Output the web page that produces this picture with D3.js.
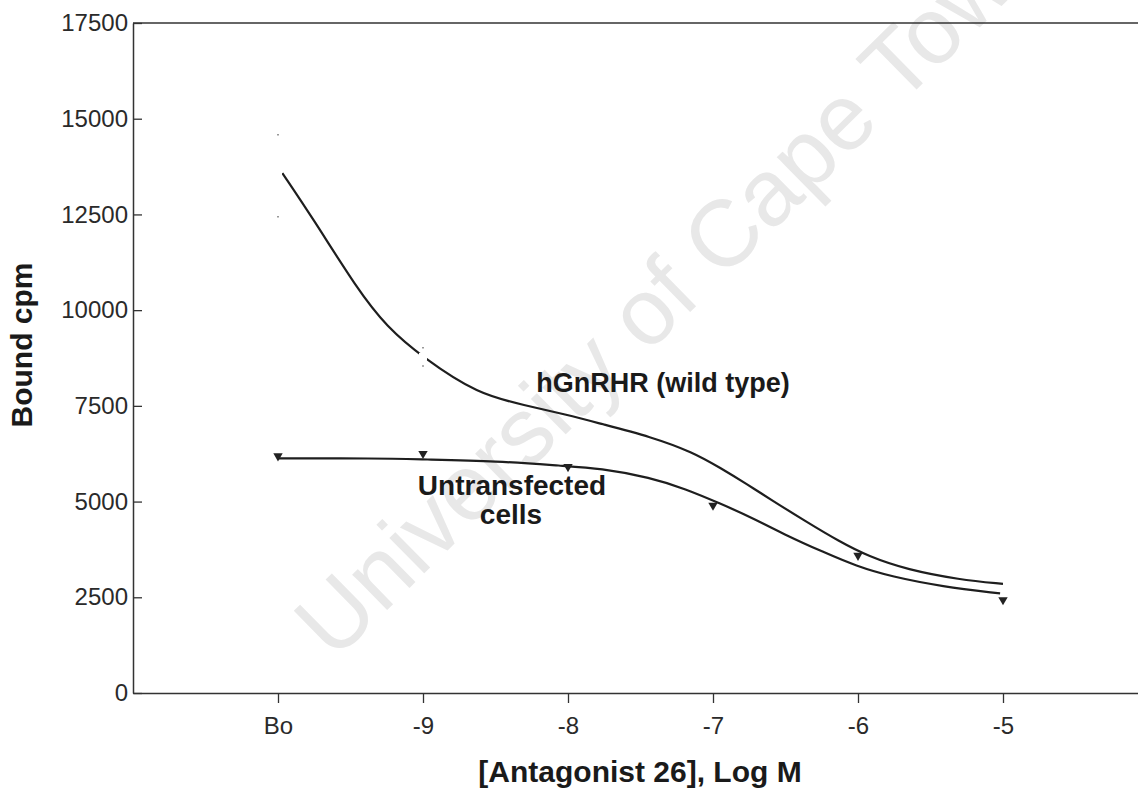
<!DOCTYPE html>
<html>
<head>
<meta charset="utf-8">
<script src="https://cdn.jsdelivr.net/npm/d3@7"></script>
<style>
  body { margin: 0; background: #fff; }
  text { font-family: "Liberation Sans", Arial, sans-serif; }
</style>
</head>
<body>
<script>
const w = 1138;
const h = 790;

// x categories: Bo is placed one log unit left of -9
const xTicks = [-10, -9, -8, -7, -6, -5];
const xTickLabels = ["Bo", "-9", "-8", "-7", "-6", "-5"];
const yTicks = [0, 2500, 5000, 7500, 10000, 12500, 15000, 17500];

// untransfected cells: measured points
const untransX = [-10, -9, -8, -7, -6, -5];
const untransY = [6190, 6250, 5910, 4900, 3590, 2430];

// untransfected cells: fitted curve
const untransFitX = [-10, -9.32, -9.0, -8.49, -8.03, -7.78, -7.43, -7.19, -6.95, -6.72, -6.48, -6.25, -6.01, -5.77, -5.42, -5.02];
const untransFitY = [6130, 6130, 6100, 6060, 5930, 5870, 5630, 5330, 4950, 4560, 4090, 3700, 3310, 3040, 2780, 2600];

// hGnRHR (wild type): fitted curve
const wildFitX = [-9.97, -9.76, -9.455, -9.25, -9.0, -8.62, -8.3, -8.0, -7.78, -7.425, -7.14, -6.95, -6.76, -6.6, -6.36, -6.13, -5.93, -5.66, -5.3, -5.0];
const wildFitY = [13580, 12400, 10560, 9560, 8760, 7800, 7520, 7260, 7040, 6690, 6290, 5880, 5440, 5050, 4480, 3960, 3570, 3220, 2960, 2850];

// hGnRHR (wild type): visible points (white markers) with error ends
const wildX = [-10, -9];
const wildY = [13510, 8780];
const wildErr = [1070, 240];

const svg = d3.select("body")
              .append("svg")
              .attr("width", w)
              .attr("height", h);

svg.append("rect").attr("width", w).attr("height", h).attr("fill", "#fff");

const xScale = d3.scaleLinear()
    .domain([-11, -4])
    .range([133, 1148]);

const yScale = d3.scaleLinear()
    .domain([0, 17500])
    .range([693, 23]);

// watermark
svg.append("text")
    .attr("transform", "translate(334,662) rotate(-44.5)")
    .attr("font-size", 94)
    .attr("fill", "#e8e8e8")
    .text("University of Cape Town");

// frame top line
svg.append("line")
    .attr("x1", xScale(-11)).attr("x2", xScale(-4))
    .attr("y1", yScale(17500)).attr("y2", yScale(17500))
    .attr("stroke", "#333").attr("stroke-width", 1.5);

const yAxis = d3.axisLeft(yScale)
    .tickValues(yTicks)
    .tickSizeInner(-9)
    .tickSizeOuter(0)
    .tickPadding(5)
    .tickFormat(d3.format("d"));

const gy = svg.append("g")
    .attr("transform", "translate(" + xScale(-11) + ",0)")
    .call(yAxis);

const xAxis = d3.axisBottom(xScale)
    .tickValues(xTicks)
    .tickSizeInner(10)
    .tickSizeOuter(0)
    .tickPadding(14)
    .tickFormat((d, i) => xTickLabels[i]);

const gx = svg.append("g")
    .attr("transform", "translate(0," + yScale(0) + ")")
    .call(xAxis);

[gx, gy].forEach(g => {
  g.selectAll("path.domain").attr("stroke", "#333").attr("stroke-width", 1.5);
  g.selectAll(".tick line").attr("stroke", "#333").attr("stroke-width", 1.3);
  g.selectAll(".tick text")
    .attr("font-size", 24)
    .attr("fill", "#2a2a2a")
    .style("font-family", "'Liberation Sans', Arial, sans-serif");
});

const line = d3.line()
    .x(d => xScale(d[0]))
    .y(d => yScale(d[1]))
    .curve(d3.curveBasis);

svg.append("path")
    .datum(d3.zip(wildFitX, wildFitY))
    .attr("fill", "none")
    .attr("stroke", "#1e1e1e")
    .attr("stroke-width", 2.2)
    .attr("d", line);

svg.append("path")
    .datum(d3.zip(untransFitX, untransFitY))
    .attr("fill", "none")
    .attr("stroke", "#1e1e1e")
    .attr("stroke-width", 2.2)
    .attr("d", line);

// wild type points: faint error ends and white markers
wildX.forEach((x, i) => {
  [wildY[i] + wildErr[i], wildY[i] - wildErr[i]].forEach(v => {
    svg.append("line")
      .attr("x1", xScale(x) - 1).attr("x2", xScale(x) + 1)
      .attr("y1", yScale(v)).attr("y2", yScale(v))
      .attr("stroke", "#999").attr("stroke-width", 1.5);
  });
  svg.append("rect")
    .attr("x", xScale(x) - 4).attr("y", yScale(wildY[i]) - 4)
    .attr("width", 8).attr("height", 8)
    .attr("fill", "#fff");
});

// untransfected markers: downward triangles
svg.selectAll("path.tri")
    .data(d3.zip(untransX, untransY))
    .join("path")
    .attr("class", "tri")
    .attr("transform", d => "translate(" + xScale(d[0]) + "," + yScale(d[1]) + ") rotate(180)")
    .attr("d", d3.symbol().type(d3.symbolTriangle).size(38))
    .attr("fill", "#222");

// annotations
svg.append("text")
    .attr("x", 663).attr("y", 392)
    .attr("text-anchor", "middle")
    .attr("font-size", 27).attr("font-weight", "bold").attr("fill", "#1a1a1a")
    .text("hGnRHR (wild type)");

svg.append("text")
    .attr("x", 512).attr("y", 495)
    .attr("text-anchor", "middle")
    .attr("font-size", 28).attr("font-weight", "bold").attr("fill", "#1a1a1a")
    .text("Untransfected");

svg.append("text")
    .attr("x", 511).attr("y", 524)
    .attr("text-anchor", "middle")
    .attr("font-size", 28).attr("font-weight", "bold").attr("fill", "#1a1a1a")
    .text("cells");

// axis titles
svg.append("text")
    .attr("x", 640).attr("y", 782)
    .attr("text-anchor", "middle")
    .attr("font-size", 30).attr("font-weight", "bold").attr("fill", "#1a1a1a")
    .text("[Antagonist 26], Log M");

svg.append("text")
    .attr("transform", "translate(32,345) rotate(-90)")
    .attr("text-anchor", "middle")
    .attr("font-size", 30).attr("font-weight", "bold").attr("fill", "#1a1a1a")
    .text("Bound cpm");
</script>
</body>
</html>
